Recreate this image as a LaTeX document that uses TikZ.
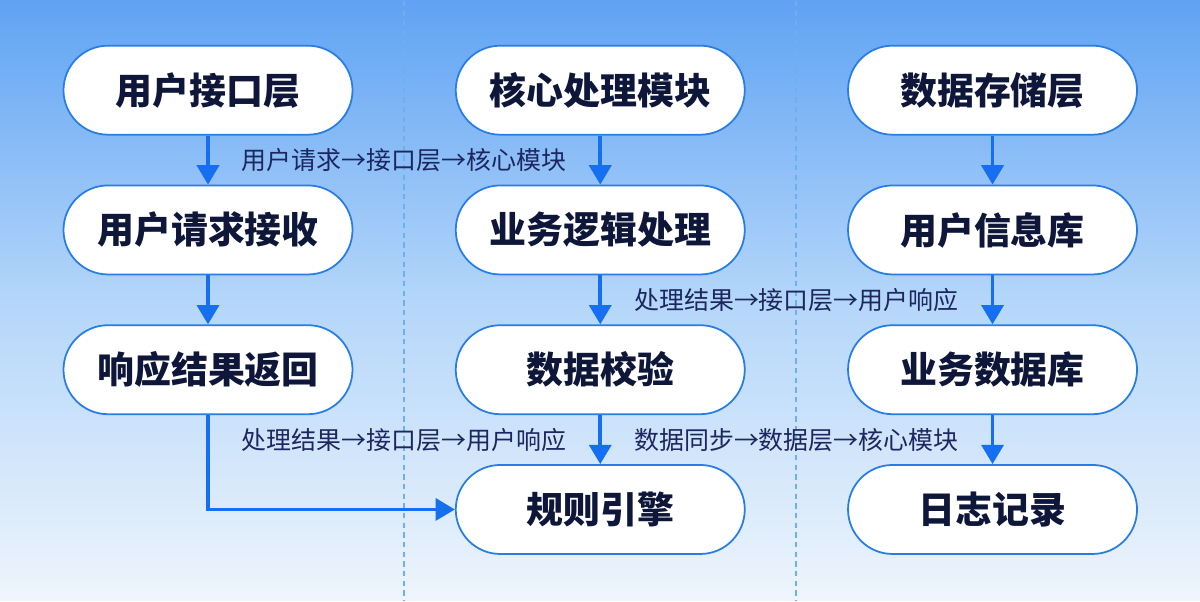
\documentclass[tikz,border=0pt]{standalone}
\usepackage{fontspec}
\setmainfont{Noto Sans CJK SC}
\usetikzlibrary{positioning,arrows.meta,calc}

\definecolor{bgtop}{RGB}{96,163,243}
\definecolor{bgmid}{RGB}{180,214,250}
\definecolor{bgbot}{RGB}{238,245,252}
\definecolor{edgeblue}{RGB}{40,125,228}
\definecolor{flowblue}{RGB}{22,110,240}
\definecolor{ink}{RGB}{14,22,58}
\definecolor{labink}{RGB}{28,38,95}
\definecolor{sepblue}{RGB}{110,175,240}

\begin{document}
\begin{tikzpicture}[
      pill/.style={draw=edgeblue, line width=1pt, fill=white,
                   rounded corners=0.89cm, minimum width=5.78cm,
                   minimum height=1.78cm, text=ink,
                   font=\fontsize{21}{25}\selectfont\bfseries},
      lab/.style={text=labink, font=\fontsize{14.2}{17}\selectfont},
      flow/.style={draw=flowblue, line width=2.2pt,
                   -{Triangle[length=11pt,width=12.5pt]}},
      sep/.style={draw=sepblue, line width=0.8pt, dash pattern=on 3pt off 2.5pt},
      node distance=0.98cm and 2.03cm
    ]
    % background
    \fill[top color=bgtop, bottom color=bgbot, middle color=bgmid]
      (0,0) rectangle (24,-12);
    \draw[sep] (8.08,0) -- (8.08,-12);
    \draw[sep] (15.92,0) -- (15.92,-12);

    % column heads
    \node[pill] (ui) at (4.16,-1.79) {用户接口层};
    \node[pill, right=of ui]   (core)  {核心处理模块};
    \node[pill, right=of core] (store) {数据存储层};

    % first column
    \node[pill, below=of ui]  (req)  {用户请求接收};
    \node[pill, below=of req] (resp) {响应结果返回};

    % second column
    \node[pill, below=of core]  (logic) {业务逻辑处理};
    \node[pill, below=of logic] (check) {数据校验};
    \node[pill, below=of check] (rule)  {规则引擎};

    % third column
    \node[pill, below=of store]  (userdb) {用户信息库};
    \node[pill, below=of userdb] (bizdb)  {业务数据库};
    \node[pill, below=of bizdb]  (log)    {日志记录};

    % flows
    \foreach \a/\b in {ui/req, req/resp, core/logic, logic/check, check/rule,
                       store/userdb, userdb/bizdb, bizdb/log} {
      \draw[flow] (\a.south) -- (\b.north);
    }
    \draw[flow] (resp.south) |- (rule.west);

    % flow labels
    \node[lab] (lreq)  at ($(ui)!0.5!(logic)$)     {用户请求→接口层→核心模块};
    \node[lab] (lres)  at ($(logic)!0.5!(bizdb)$)  {处理结果→接口层→用户响应};
    \node[lab] (lres2) at ($(resp)!0.5!(rule)$)    {处理结果→接口层→用户响应};
    \node[lab] (lsync) at ($(check)!0.5!(log)$)    {数据同步→数据层→核心模块};
  \end{tikzpicture}
\end{document}
